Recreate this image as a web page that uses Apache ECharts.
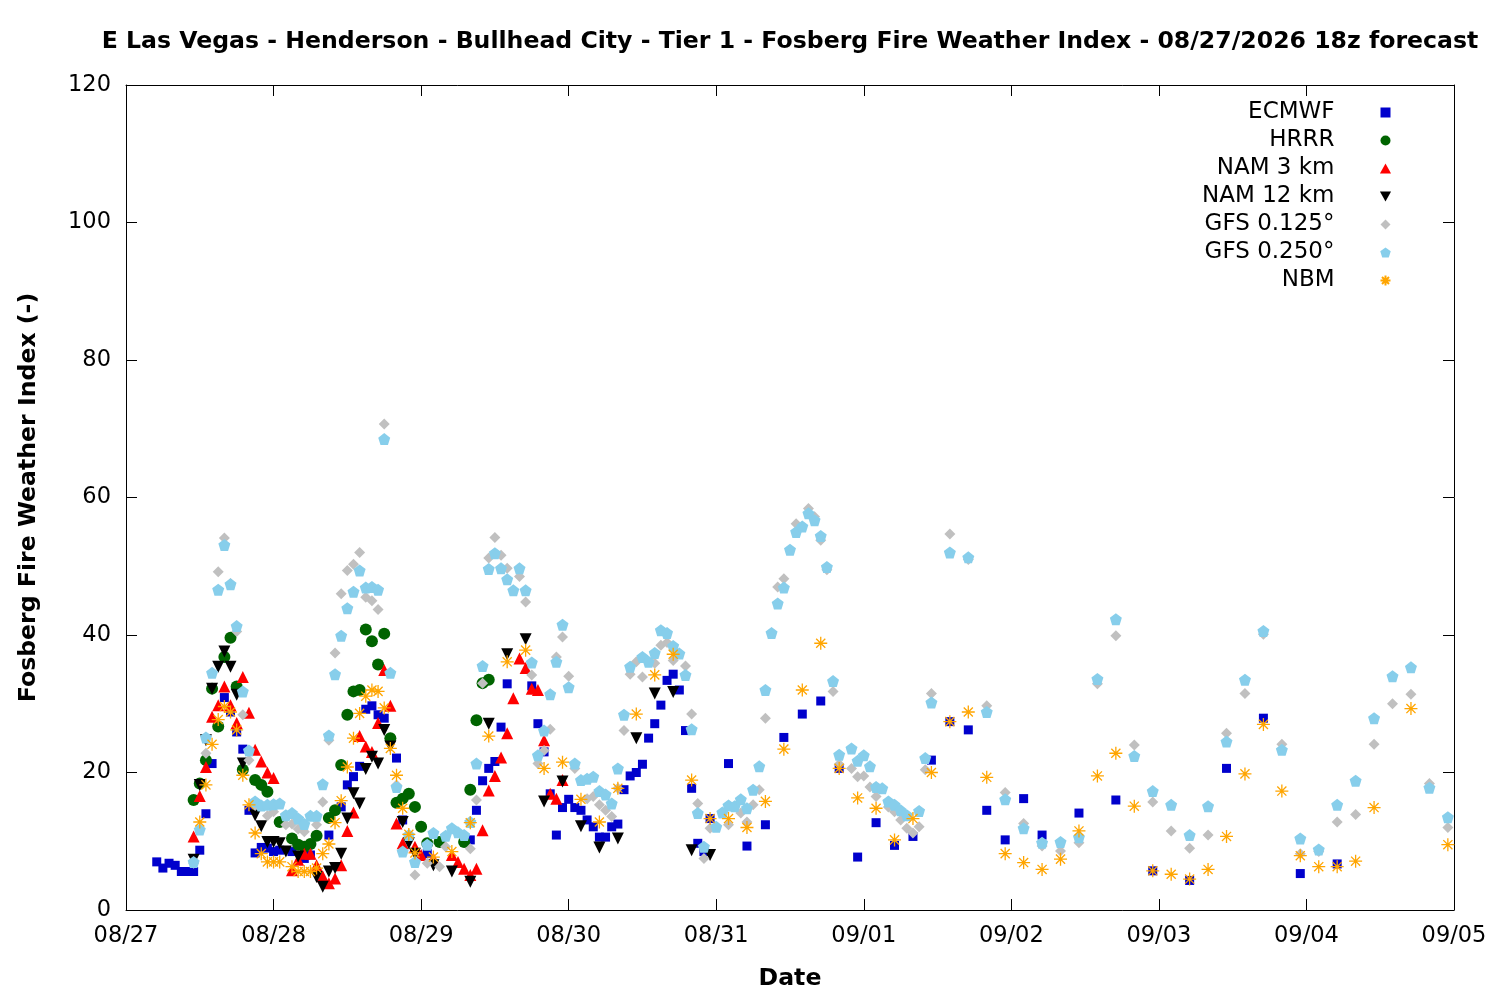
<!DOCTYPE html>
<html>
<head>
<meta charset="utf-8">
<script src="https://cdn.jsdelivr.net/npm/echarts@6/dist/echarts.min.js"></script>
<style>
  html, body { margin: 0; padding: 0; background: #fff; }
  #chart { width: 1500px; height: 1000px; }
</style>
</head>
<body>
<div id="chart"></div>
<script>
// hours from 08/27 00 local, value
var dayLabels = ['08/27', '08/28', '08/29', '08/30', '08/31', '09/01', '09/02', '09/03', '09/04', '09/05'];

var ecmwf = [[5,7.0],[6,6.1],[7,6.8],[8,6.5],[9,5.6],[10,5.6],[11,5.6],[12,8.7],[13,14.0],[14,21.3],[16,30.9],[17,28.8],[18,25.9],[19,23.4],[20,14.5],[21,8.3],[22,9.1],[23,9.0],[24,8.5],[25,8.7],[27,8.5],[29,7.5],[30,8.0],[33,10.9],[35,15.0],[36,18.2],[37,19.4],[38,20.9],[39,29.2],[40,29.7],[41,28.4],[42,27.9],[44,22.1],[45,13.1],[49,8.2],[56,10.2],[57,14.5],[58,18.8],[59,20.6],[60,21.6],[61,26.6],[62,32.9],[66,32.6],[67,27.1],[68,23.0],[69,16.9],[70,10.9],[71,14.9],[72,16.1],[73,14.9],[74,14.5],[75,13.1],[76,12.1],[77,10.6],[78,10.6],[79,12.1],[80,12.5],[81,17.5],[82,19.5],[83,20.0],[84,21.2],[85,25.0],[86,27.1],[87,29.8],[88,33.4],[89,34.3],[90,32.0],[91,26.1],[92,17.7],[93,9.7],[94,8.5],[95,13.3],[98,21.3],[101,9.3],[104,12.4],[107,25.1],[110,28.5],[113,30.4],[116,20.6],[119,7.7],[122,12.7],[125,9.4],[128,10.7],[131,21.8],[134,27.4],[137,26.2],[140,14.5],[143,10.2],[146,16.2],[149,10.9],[155,14.1],[161,16.0],[167,5.7],[173,4.3],[179,20.6],[185,27.9],[191,5.3],[197,6.7]];

var hrrr = [[11,16.0],[12,18.4],[13,21.8],[14,32.2],[15,26.7],[16,36.8],[17,39.6],[18,32.5],[19,20.4],[21,18.9],[22,18.2],[23,17.2],[25,12.8],[27,10.4],[28,9.5],[29,9.2],[30,9.6],[31,10.8],[33,13.4],[34,14.5],[35,21.1],[36,28.4],[37,31.8],[38,32.0],[39,40.8],[40,39.1],[41,35.7],[42,40.2],[43,25.0],[44,15.6],[45,16.2],[46,16.9],[47,15.0],[48,12.1],[49,9.7],[51,9.9],[55,9.9],[56,17.5],[57,27.6],[58,33.0],[59,33.5]];

var nam3 = [[11,10.7],[12,16.6],[13,20.8],[14,28.1],[15,29.8],[16,32.5],[17,29.8],[18,27.2],[19,33.9],[20,28.7],[21,23.3],[22,21.6],[23,20.0],[24,19.2],[27,5.8],[28,7.3],[29,8.2],[30,8.2],[31,6.5],[32,4.9],[33,3.9],[34,4.6],[35,6.5],[36,11.5],[37,14.2],[38,25.3],[39,23.8],[40,23.0],[41,27.2],[42,34.9],[43,29.7],[44,12.6],[45,9.7],[47,9.2],[48,8.0],[50,7.5],[53,8.0],[54,7.0],[55,6.0],[56,5.1],[57,6.0],[58,11.6],[59,17.4],[60,19.5],[61,22.2],[62,25.7],[63,30.8],[64,36.6],[65,35.2],[66,32.2],[67,32.0],[68,24.7],[69,16.9],[70,16.2],[71,18.9]];

var nam12 = [[11,7.3],[12,18.2],[13,24.7],[14,32.2],[15,35.4],[16,37.6],[17,35.4],[18,31.3],[19,21.3],[21,13.8],[22,12.2],[23,9.9],[24,9.9],[25,9.7],[26,8.5],[28,7.8],[31,4.8],[32,3.4],[33,5.6],[34,6.1],[35,8.2],[36,13.3],[37,17.0],[38,15.5],[39,20.5],[40,22.3],[41,21.3],[42,26.2],[43,23.8],[45,12.8],[46,9.7],[47,8.2],[50,6.5],[53,5.6],[56,4.1],[59,27.1],[62,37.2],[65,39.4],[68,15.8],[71,18.7],[74,12.2],[77,9.1],[80,10.4],[83,25.0],[86,31.5],[89,31.7],[92,8.7],[95,8.0]];

var gfs125 = [[11,6.8],[13,22.8],[15,49.2],[16,54.1],[17,47.5],[18,40.5],[19,28.4],[20,21.8],[21,15.2],[23,13.7],[24,14.3],[26,12.4],[27,12.5],[28,11.8],[29,11.4],[31,12.4],[32,15.7],[33,24.7],[34,37.4],[35,46.0],[36,49.4],[37,50.3],[38,52.0],[39,45.5],[40,45.0],[41,43.7],[42,70.7],[44,18.2],[47,5.1],[49,6.8],[51,6.3],[52,9.2],[56,8.9],[57,16.0],[58,33.0],[59,51.2],[60,54.2],[61,51.6],[62,49.7],[64,48.5],[65,44.8],[66,34.2],[67,21.3],[68,23.2],[69,26.3],[70,36.8],[71,39.7],[72,34.0],[73,20.6],[75,16.2],[76,16.5],[77,15.3],[78,14.5],[79,13.6],[80,17.7],[81,26.1],[82,34.3],[83,36.1],[84,33.9],[86,35.9],[87,38.5],[88,38.9],[89,36.3],[91,35.5],[92,28.5],[93,15.5],[94,7.5],[95,11.9],[98,12.4],[100,14.1],[101,12.8],[102,15.3],[103,17.5],[104,27.9],[106,47.0],[107,48.2],[109,56.2],[111,58.4],[112,57.2],[113,53.8],[114,49.5],[115,31.8],[116,21.2],[118,20.6],[119,19.4],[120,19.5],[121,17.9],[122,16.5],[124,15.0],[125,14.3],[126,13.1],[127,11.9],[128,11.2],[129,12.1],[130,20.4],[131,31.5],[134,54.7],[137,51.0],[140,29.7],[143,17.1],[146,12.6],[149,9.3],[152,8.6],[155,9.8],[158,32.9],[161,39.9],[164,24.0],[167,15.7],[170,11.5],[173,9.0],[176,10.9],[179,25.7],[182,31.5],[185,40.1],[188,24.1],[191,8.2],[194,8.5],[197,12.8],[200,13.9],[203,24.1],[206,30.0],[209,31.4],[212,18.4],[215,12.0]];

var gfs250 = [[11,7.0],[12,11.7],[13,25.1],[14,34.5],[15,46.6],[16,53.1],[17,47.4],[18,41.3],[19,31.8],[20,23.2],[21,15.8],[22,15.2],[23,15.3],[24,15.4],[25,15.5],[26,13.8],[27,14.1],[28,13.3],[29,12.5],[30,13.7],[31,13.7],[32,18.3],[33,25.4],[34,34.3],[35,39.9],[36,43.9],[37,46.3],[38,49.4],[39,46.9],[40,47.0],[41,46.6],[42,68.5],[43,34.5],[44,17.9],[45,8.5],[46,10.9],[47,7.0],[49,9.5],[50,11.2],[52,10.8],[53,11.9],[54,11.3],[55,10.9],[56,12.8],[57,21.3],[58,35.5],[59,49.6],[60,51.9],[61,49.7],[62,48.1],[63,46.5],[64,49.7],[65,46.5],[66,36.0],[67,22.5],[68,26.1],[69,31.4],[70,36.1],[71,41.5],[72,32.4],[73,21.3],[74,18.9],[75,19.1],[76,19.4],[77,17.3],[78,16.8],[79,15.5],[80,20.6],[81,28.4],[82,35.4],[84,36.8],[85,36.1],[86,37.4],[87,40.7],[88,40.3],[89,38.4],[90,37.3],[91,34.2],[92,26.3],[93,14.1],[94,9.2],[96,12.1],[97,14.2],[98,15.2],[99,15.1],[100,16.1],[101,14.8],[102,17.5],[103,20.9],[104,32.0],[105,40.3],[106,44.6],[107,46.9],[108,52.4],[109,55.0],[110,55.8],[111,57.7],[112,56.7],[113,54.4],[114,49.9],[115,33.3],[116,22.6],[118,23.5],[119,21.7],[120,22.5],[121,20.9],[122,17.9],[123,17.7],[124,15.8],[125,15.3],[126,14.5],[127,13.8],[129,14.4],[130,22.1],[131,30.2],[134,52.0],[137,51.3],[140,28.8],[143,16.1],[146,11.9],[149,9.8],[152,9.9],[155,10.6],[158,33.6],[161,42.3],[164,22.4],[167,17.3],[170,15.3],[173,10.9],[176,15.1],[179,24.5],[182,33.5],[185,40.6],[188,23.3],[191,10.4],[194,8.8],[197,15.3],[200,18.8],[203,27.9],[206,34.0],[209,35.3],[212,17.8],[215,13.5]];

var nbm = [[12,12.8],[13,18.2],[14,24.1],[15,27.7],[16,29.6],[17,28.8],[18,26.2],[19,19.6],[20,15.3],[21,11.2],[22,8.2],[23,7.0],[24,7.0],[25,7.0],[27,6.3],[28,5.6],[29,5.6],[30,5.6],[31,6.1],[32,8.2],[33,9.6],[34,12.7],[35,15.9],[36,20.8],[37,25.0],[38,28.6],[39,31.1],[40,32.0],[41,31.8],[42,29.4],[43,23.5],[44,19.6],[45,14.8],[46,11.0],[47,8.3],[50,7.7],[53,8.5],[56,12.7],[59,25.3],[62,36.1],[65,37.8],[68,20.6],[71,21.5],[74,16.1],[77,12.8],[80,17.7],[83,28.5],[86,34.2],[89,37.2],[92,18.9],[95,13.3],[98,13.3],[101,12.0],[104,15.8],[107,23.4],[110,32.0],[113,38.8],[116,20.6],[119,16.3],[122,14.8],[125,10.2],[128,13.3],[131,20.0],[134,27.4],[137,28.8],[140,19.3],[143,8.2],[146,6.9],[149,5.9],[152,7.4],[155,11.5],[158,19.5],[161,22.8],[164,15.1],[167,5.7],[170,5.2],[173,4.5],[176,5.9],[179,10.7],[182,19.8],[185,27.0],[188,17.3],[191,7.9],[194,6.3],[197,6.3],[200,7.1],[203,14.9],[209,29.3],[215,9.5]];

var FONT = 'DejaVu Sans';
// path symbols keep their shape in the legend box
var square = 'path://M0,0 L10,0 L10,10 L0,10 Z';
var upTri = 'path://M5,0 L10,9 L0,9 Z';
var downTri = 'path://M0,0 L10,0 L5,9 Z';
var diamond = 'path://M5,0 L10,5 L5,10 L0,5 Z';
var pentagon = 'path://M0,-10 L9.51,-3.09 L5.88,8.09 L-5.88,8.09 L-9.51,-3.09 Z';
var asterisk = 'path://M5,0 L5,10 M0,5 L10,5 M1.5,1.5 L8.5,8.5 M1.5,8.5 L8.5,1.5';

function pts(name, data, symbol, size, color, style) {
    return {
        name: name, type: 'scatter', data: data,
        symbol: symbol, symbolSize: size,
        itemStyle: style || { color: color, opacity: 1 },
        animation: false,
        emphasis: { disabled: true }
    };
}

var axisBase = {
    type: 'value', min: 0,
    axisLine: { show: true, onZero: false, lineStyle: { color: '#000', width: 1 } },
    axisTick: { show: true, inside: true, length: 11, lineStyle: { color: '#000' } },
    splitLine: { show: false },
    axisLabel: { color: '#000', fontFamily: FONT, fontSize: 22.5 }
};
var nameStyle = { fontFamily: FONT, fontSize: 23.6, fontWeight: 'bold', color: '#000' };

var chart = echarts.init(document.getElementById('chart'));
chart.setOption({
    backgroundColor: '#fff',
    animation: false,
    title: {
        text: 'E Las Vegas - Henderson - Bullhead City - Tier 1 - Fosberg Fire Weather Index - 08/27/2026 18z forecast',
        left: 785, top: 25, textAlign: 'center',
        textStyle: nameStyle
    },
    grid: { left: 126, right: 46, top: 85, bottom: 90 },
    legend: {
        orient: 'vertical', align: 'right',
        right: 102, top: 96,
        itemWidth: 92, itemHeight: 10, itemGap: 5,
        textStyle: { fontFamily: FONT, fontSize: 23, color: '#000' },
        data: ['ECMWF', 'HRRR', 'NAM 3 km', 'NAM 12 km', 'GFS 0.125°', 'GFS 0.250°', 'NBM']
    },
    xAxis: [
        Object.assign({}, axisBase, {
            max: 216, interval: 24, position: 'bottom',
            axisLabel: Object.assign({}, axisBase.axisLabel, {
                margin: 15,
                formatter: function(v) { return dayLabels[Math.round(v / 24)]; }
            }),
            name: 'Date', nameLocation: 'middle', nameGap: 57, nameTextStyle: nameStyle
        }),
        Object.assign({}, axisBase, {
            max: 216, interval: 24, position: 'top', axisLabel: { show: false }
        })
    ],
    yAxis: [
        Object.assign({}, axisBase, {
            max: 120, interval: 20, position: 'left',
            axisLabel: Object.assign({}, axisBase.axisLabel, { margin: 15 }),
            name: 'Fosberg Fire Weather Index (-)', nameLocation: 'middle', nameGap: 85, nameRotate: 90,
            nameTextStyle: nameStyle
        }),
        Object.assign({}, axisBase, {
            max: 120, interval: 20, position: 'right', axisLabel: { show: false }
        })
    ],
    series: [
        pts('ECMWF', ecmwf, square, 9, '#0000cc'),
        pts('HRRR', hrrr, 'circle', 12, '#006400'),
        pts('NAM 3 km', nam3, upTri, 12, '#ff0000'),
        pts('NAM 12 km', nam12, downTri, 12, '#000000'),
        pts('GFS 0.125°', gfs125, diamond, 11, '#c0c0c0'),
        pts('GFS 0.250°', gfs250, pentagon, 12, '#87ceeb'),
        pts('NBM', nbm, asterisk, 13, '#ffa500',
            { color: 'none', borderColor: '#ffa500', borderWidth: 1.3, opacity: 1 })
    ]
});
</script>
</body>
</html>
